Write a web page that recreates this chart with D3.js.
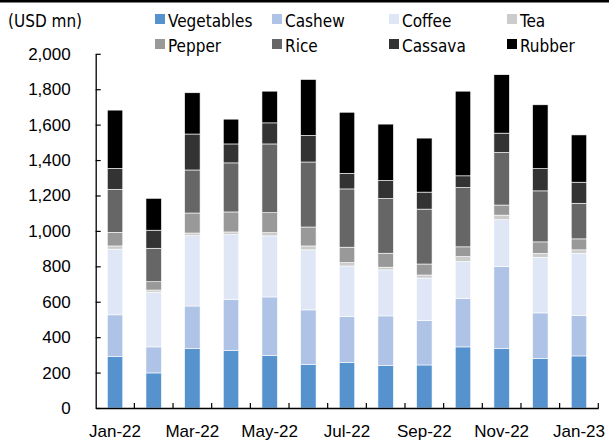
<!DOCTYPE html>
<html>
<head>
<meta charset="utf-8">
<script src="https://cdn.jsdelivr.net/npm/d3@7"></script>
<style>
html,body{margin:0;padding:0;background:#fff;}
svg{display:block;font-family:"DejaVu Sans Condensed","DejaVu Sans",sans-serif;font-stretch:condensed;}
</style>
</head>
<body>
<svg id="chart" width="609" height="441"></svg>
<script>
const months = ["Jan-22","Feb-22","Mar-22","Apr-22","May-22","Jun-22","Jul-22","Aug-22","Sep-22","Oct-22","Nov-22","Dec-22","Jan-23"];
const seriesNames = ["Vegetables","Cashew","Coffee","Tea","Pepper","Rice","Cassava","Rubber"];
const vegetables = [290, 198, 335, 324, 296, 245, 256, 239, 243, 345, 335, 279, 294];
const cashew     = [236, 147, 241, 290, 331, 309, 260, 281, 250, 273, 463, 258, 228];
const coffee     = [371, 309, 397, 365, 345, 339, 286, 260, 241, 209, 265, 314, 352];
const tea        = [18, 12, 15, 15, 18, 22, 19, 15, 17, 28, 26, 22, 19];
const pepper     = [77, 47, 113, 113, 113, 107, 87, 79, 62, 55, 57, 65, 62];
const rice       = [243, 189, 243, 277, 388, 367, 329, 309, 310, 335, 297, 288, 201];
const cassava    = [118, 102, 203, 107, 119, 150, 88, 102, 96, 66, 109, 126, 119];
const rubber     = [329, 180, 233, 140, 179, 316, 345, 318, 305, 478, 330, 360, 267];
const yTicks = [0,200,400,600,800,1000,1200,1400,1600,1800,2000];
const colors = ["#5592CE","#AEC3E6","#DFE7F6","#CCCCCC","#999999","#666666","#333333","#000000"];

const seriesValues = [vegetables, cashew, coffee, tea, pepper, rice, cassava, rubber];
const table = months.map((m,i)=>{
  const row = {month:m};
  seriesNames.forEach((s,j)=>row[s]=seriesValues[j][i]);
  return row;
});

const svg = d3.select("#chart");
const fontSize = 17;

// top rule
svg.append("rect").attr("x",0).attr("y",0).attr("width",609).attr("height",2.5).attr("fill","#000");

const x = d3.scaleBand().domain(months).range([95.7,598.3]).paddingInner(0.6).paddingOuter(0.3);
const y = d3.scaleLinear().domain([0,2000]).range([408,53.8]);

const stack = d3.stack().keys(seriesNames)(table);

svg.append("g").selectAll("g").data(stack).join("g")
  .attr("fill",(d,i)=>colors[i])
  .selectAll("rect").data(d=>d).join("rect")
  .attr("x",d=>x(d.data.month))
  .attr("width",x.bandwidth())
  .attr("y",d=>y(d[1]))
  .attr("height",d=>y(d[0])-y(d[1]))
  .attr("stroke","#ffffff").attr("stroke-width",0.6);

// Y axis
const yAxis = d3.axisLeft(y).tickValues(yTicks).tickFormat(d3.format(",")).tickSizeInner(-5).tickSizeOuter(0).tickPadding(25);
const gy = svg.append("g").attr("transform","translate(95.7,0)").call(yAxis);
gy.selectAll("path").attr("stroke","#000").attr("stroke-width",1.3);
gy.selectAll("line").attr("stroke","#000").attr("stroke-width",1.2);
gy.selectAll("text").attr("font-size",fontSize).attr("font-family",null).attr("fill","#000");

// X axis
const xAxis = d3.axisBottom(x).tickSize(0).tickPadding(0).tickFormat((d,i)=> i%2===0 ? d : "");
const gx = svg.append("g").attr("transform","translate(0,408)").call(xAxis);
gx.select("path").attr("stroke","#000").attr("stroke-width",1.3);
gx.selectAll("text").attr("font-size",fontSize).attr("font-family",null).attr("fill","#000").attr("y",29).attr("dy",0);
// boundary ticks
const step = x.step();
const x0 = x.range()[0];
const bounds = d3.range(months.length+1).map(i=>x0+i*step);
gx.append("g").selectAll("line").data(bounds.slice(1)).join("line")
  .attr("x1",d=>d).attr("x2",d=>d).attr("y1",0).attr("y2",-5)
  .attr("stroke","#000").attr("stroke-width",1.2);

// unit label
svg.append("text").attr("x",8).attr("y",27.3).attr("font-size",fontSize).text("(USD mn)");

// legend
const legendX = [155,272,389,507];
const legendY = [14,39];
const lg = svg.append("g");
seriesNames.forEach((s,i)=>{
  const col = i%4, row = Math.floor(i/4);
  lg.append("rect").attr("x",legendX[col]).attr("y",legendY[row]).attr("width",10).attr("height",10).attr("fill",colors[i]);
  lg.append("text").attr("x",legendX[col]+13).attr("y",legendY[row]+13.3).attr("font-size",fontSize).text(s);
});
</script>
</body>
</html>
